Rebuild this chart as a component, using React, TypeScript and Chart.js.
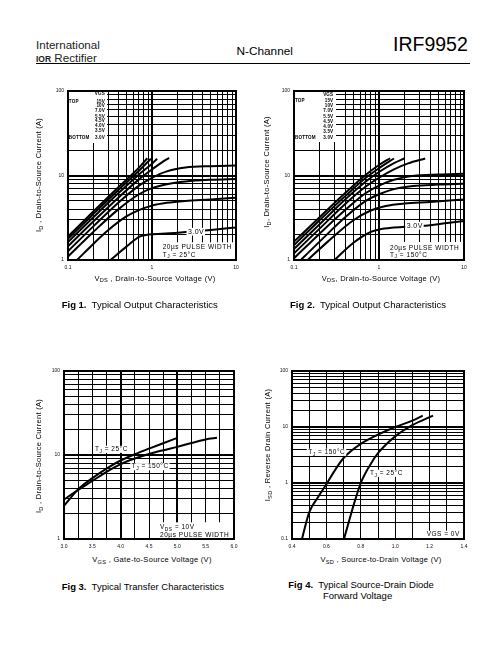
import React, { useEffect, useRef } from 'react';
import { Chart, registerables } from 'chart.js';

Chart.register(...registerables);

type Pt = [number, number];

// ---------------- tick labels ----------------
const OUT_X_LABELS = ['0.1', '1', '10'];
const OUT_Y_LABELS = ['1', '10', '100'];
const TRANSFER_X_LABELS = ['3.0', '3.5', '4.0', '4.5', '5.0', '5.5', '6.0'];
const TRANSFER_Y_LABELS = ['1', '10', '100'];
const DIODE_X_LABELS = ['0.4', '0.6', '0.8', '1.0', '1.2', '1.4'];
const DIODE_Y_LABELS = ['0.1', '1', '10', '100'];

// ---------------- legend ----------------
const VGS_LEVELS = ['15V', '10V', '7.0V', '5.5V', '4.5V', '4.0V', '3.5V', '3.0V'];

// ---------------- Fig 1 : output, Tj = 25C  [VDS, ID] ----------------
const F1_15V: Pt[] = [[0.1, 1.9], [0.2, 3.75], [0.4, 7.3], [0.7, 12.4], [0.88, 16.0]];
const F1_10V: Pt[] = [[0.1, 1.78], [0.2, 3.5], [0.4, 6.8], [0.7, 11.4], [0.97, 15.8]];
const F1_7V: Pt[] = [[0.1, 1.63], [0.2, 3.2], [0.4, 6.2], [0.7, 10.3], [1.0, 13.8], [1.15, 15.8]];
const F1_5V5: Pt[] = [[0.1, 1.45], [0.2, 2.85], [0.4, 5.5], [0.7, 9.0], [1.0, 11.8], [1.3, 14.2], [1.6, 16.2]];
const F1_4V5: Pt[] = [[0.1, 1.27], [0.2, 2.5], [0.4, 4.8], [0.7, 7.6], [1.0, 9.4], [1.5, 11.2], [2.5, 12.4], [5, 12.9], [10, 13.1]];
const F1_4V: Pt[] = [[0.1, 1.1], [0.2, 2.15], [0.4, 4.0], [0.7, 6.0], [1.0, 7.1], [1.5, 7.9], [2.5, 8.5], [5, 8.9], [10, 9.1]];
const F1_3V5: Pt[] = [[0.128, 1.0], [0.2, 1.55], [0.3, 2.25], [0.5, 3.3], [0.7, 3.9], [1.0, 4.4], [1.5, 4.75], [2.5, 5.0], [5, 5.2], [10, 5.45]];
const F1_3V: Pt[] = [[0.32, 1.0], [0.5, 1.45], [0.72, 1.9], [0.85, 1.98], [1.0, 2.02], [2.0, 2.1], [3.0, 2.18], [5, 2.27], [10, 2.42]];

// ---------------- Fig 2 : output, Tj = 150C ----------------
const F2_15V: Pt[] = [[0.1, 1.65], [0.2, 3.2], [0.4, 6.2], [0.7, 10.2], [1.0, 13.3], [1.35, 16.0]];
const F2_10V: Pt[] = [[0.1, 1.5], [0.2, 2.95], [0.4, 5.7], [0.7, 9.4], [1.0, 12.2], [1.5, 15.9]];
const F2_7V: Pt[] = [[0.1, 1.35], [0.2, 2.65], [0.4, 5.2], [0.7, 8.5], [1.0, 11.0], [1.5, 14.0], [2.0, 16.0]];
const F2_5V5: Pt[] = [[0.1, 1.2], [0.2, 2.35], [0.4, 4.6], [0.7, 7.4], [1.0, 9.4], [1.5, 11.8], [2.2, 13.9], [3.5, 15.9]];
const F2_4V5: Pt[] = [[0.1, 1.05], [0.2, 2.05], [0.4, 3.9], [0.7, 6.2], [1.0, 7.6], [1.5, 8.9], [2.5, 9.9], [5, 10.3], [10, 10.5]];
const F2_4V: Pt[] = [[0.12, 1.0], [0.2, 1.65], [0.4, 3.2], [0.7, 5.0], [1.0, 6.0], [1.5, 6.9], [2.5, 7.5], [5, 7.8], [10, 8.0]];
const F2_3V5: Pt[] = [[0.145, 1.0], [0.25, 1.65], [0.5, 2.95], [0.8, 3.85], [1.2, 4.35], [2.0, 4.65], [4.0, 4.85], [10, 5.2]];
const F2_3V: Pt[] = [[0.3, 1.0], [0.5, 1.6], [0.8, 2.15], [1.0, 2.3], [1.5, 2.42], [2.5, 2.5], [4, 2.58], [6, 2.72], [10, 2.9]];

// ---------------- Fig 3 : transfer [VGS, ID] ----------------
const F3_25C: Pt[] = [[3.0, 2.48], [3.25, 3.9], [3.5, 5.3], [3.75, 6.9], [4.0, 8.6], [4.25, 10.2], [4.5, 11.9], [4.75, 13.8], [5.0, 16.0]];
const F3_150C: Pt[] = [[3.0, 2.95], [3.25, 3.85], [3.5, 4.9], [3.75, 6.3], [4.0, 7.8], [4.25, 9.1], [4.5, 10.3], [4.75, 11.4], [5.0, 12.5], [5.25, 13.9], [5.5, 15.3], [5.7, 16.0]];

// ---------------- Fig 4 : diode [VSD, ISD] ----------------
const F4_150C: Pt[] = [[0.458, 0.1], [0.5, 0.3], [0.55, 0.55], [0.6, 0.95], [0.65, 1.7], [0.7, 2.8], [0.8, 5.0], [0.9, 7.3], [1.0, 10.0], [1.1, 13.0], [1.16, 16.0]];
const F4_25C: Pt[] = [[0.702, 0.1], [0.73, 0.2], [0.76, 0.42], [0.8, 1.0], [0.85, 2.0], [0.9, 3.4], [1.0, 6.8], [1.1, 10.8], [1.22, 16.0]];

// ---------------------------------------------------------------
const FONT = '"Liberation Sans", Arial, Helvetica, sans-serif';
const YW = 30; // y-axis band width
const XH = 16; // x-axis band height
const PT = 8;
const PR = 8;

function logGrid(min: number, max: number): number[] {
  const out: number[] = [];
  const e0 = Math.round(Math.log10(min));
  const e1 = Math.round(Math.log10(max));
  for (let e = e0; e < e1; e++) for (let m = 1; m <= 9; m++) out.push(Number((m * Math.pow(10, e)).toPrecision(6)));
  out.push(max);
  return out;
}
function linGrid(min: number, max: number, step: number): number[] {
  const n = Math.round((max - min) / step);
  return Array.from({ length: n + 1 }, (_, i) => Number((min + i * step).toFixed(6)));
}
const isDecade = (v: number) => Math.abs(Math.log10(v) - Math.round(Math.log10(v))) < 1e-6;
const isInt = (v: number) => Math.abs(v - Math.round(v)) < 1e-6;

interface Axis {
  type: 'linear' | 'logarithmic';
  min: number;
  max: number;
  grid: number[];
  labels: string[];
  major: (v: number) => boolean;
}
interface Note {
  s: string; x: number; y: number; size: number;
  bold?: boolean; align?: 'left' | 'right'; sp?: number; bg?: boolean;
}
interface Spec {
  left: number; top: number; w: number; h: number;
  x: Axis; y: Axis; series: Pt[][];
  covers: number[][]; notes: Note[];
}

function legendNotes(rightX: number, leftX: number, rows: number[]): Note[] {
  const base = { size: 4.6, bold: true, sp: 0.15 };
  const out: Note[] = [{ s: 'VGS', x: rightX, y: rows[0], align: 'right', ...base }];
  VGS_LEVELS.forEach((v, i) => out.push({ s: v, x: rightX, y: rows[i + 1], align: 'right', ...base }));
  out.push({ s: 'TOP', x: leftX, y: rows[1], ...base });
  out.push({ s: 'BOTTOM', x: leftX, y: rows[8], ...base });
  return out;
}

const OUT_X: Axis = { type: 'logarithmic', min: 0.1, max: 10, grid: logGrid(0.1, 10), labels: OUT_X_LABELS, major: isDecade };
const OUT_Y: Axis = { type: 'logarithmic', min: 1, max: 100, grid: logGrid(1, 100), labels: OUT_Y_LABELS, major: isDecade };

const FIG1: Spec = {
  left: 68, top: 91, w: 168, h: 169,
  x: OUT_X, y: OUT_Y,
  series: [F1_15V, F1_10V, F1_7V, F1_5V5, F1_4V5, F1_4V, F1_3V5, F1_3V],
  covers: [[0, 0, 39, 52], [92.7, 151.3, 75.3, 17.7]],
  notes: [
    ...legendNotes(37, 0.8, [3, 11, 15, 19.5, 25.5, 29.8, 35, 39.7, 47]),
    { s: '3.0V', x: 120, y: 140.7, size: 7, sp: 0.4, bg: true },
    { s: '20µs PULSE WIDTH', x: 94.7, y: 156.7, size: 6.5, sp: 0.55 },
    { s: 'T_J_ = 25°C', x: 94.7, y: 164, size: 6.5, sp: 0.55 },
  ],
};

const FIG2: Spec = {
  left: 294, top: 91, w: 170, h: 169,
  x: OUT_X, y: OUT_Y,
  series: [F2_15V, F2_10V, F2_7V, F2_5V5, F2_4V5, F2_4V, F2_3V5, F2_3V],
  covers: [[0, 0, 42, 51], [92, 151, 78, 18]],
  notes: [
    ...legendNotes(39.3, 1, [3.3, 9.5, 15, 19.3, 25.7, 30.5, 35.5, 40.5, 46.3]),
    { s: '3.0V', x: 112.7, y: 134.7, size: 7, sp: 0.4, bg: true },
    { s: '20µs PULSE WIDTH', x: 96, y: 157.3, size: 6.5, sp: 0.55 },
    { s: 'T_J_ = 150°C', x: 96, y: 164, size: 6.5, sp: 0.55 },
  ],
};

const FIG3: Spec = {
  left: 64, top: 371, w: 170, h: 168,
  x: { type: 'linear', min: 3, max: 6, grid: linGrid(3, 6, 0.25), labels: TRANSFER_X_LABELS, major: isInt },
  y: { type: 'logarithmic', min: 1, max: 100, grid: logGrid(1, 100), labels: TRANSFER_Y_LABELS, major: isDecade },
  series: [F3_25C, F3_150C],
  covers: [[93.7, 151.3, 76.3, 16.7]],
  notes: [
    { s: 'T_J_ = 25°C', x: 31, y: 78.3, size: 6.5, sp: 0.5, bg: true },
    { s: 'T_J_ = 150°C', x: 67.7, y: 95.7, size: 6.5, sp: 0.5, bg: true },
    { s: 'V_DS_ = 10V', x: 96, y: 156.7, size: 6.5, sp: 0.5 },
    { s: '20µs PULSE WIDTH', x: 96, y: 164, size: 6.5, sp: 0.55 },
  ],
};

const FIG4: Spec = {
  left: 292, top: 371, w: 172, h: 168,
  x: { type: 'linear', min: 0.4, max: 1.4, grid: linGrid(0.4, 1.4, 0.1), labels: DIODE_X_LABELS, major: () => false },
  y: { type: 'logarithmic', min: 0.1, max: 100, grid: logGrid(0.1, 100), labels: DIODE_Y_LABELS, major: isDecade },
  series: [F4_150C, F4_25C],
  covers: [[133, 159.7, 39, 8.3]],
  notes: [
    { s: 'T_J_ = 150°C', x: 16.3, y: 81.3, size: 6.5, sp: 0.5, bg: true },
    { s: 'T_J_ = 25°C', x: 78, y: 102.3, size: 6.5, sp: 0.5, bg: true },
    { s: 'VGS = 0V', x: 134.7, y: 163.3, size: 6.5, sp: 0.5 },
  ],
};

function drawNote(ctx: any, t: Note, a: any) {
  const parts = t.s.split('_');
  const f = (sub: boolean) => `${t.bold ? 'bold ' : ''}${sub ? t.size * 0.75 : t.size}px ${FONT}`;
  ctx.letterSpacing = (t.sp || 0) + 'px';
  let w = 0;
  const ws = parts.map((p, i) => {
    ctx.font = f(i % 2 === 1);
    const m = ctx.measureText(p).width;
    w += m;
    return m;
  });
  let x = a.left + t.x - (t.align === 'right' ? w : 0);
  const y = a.top + t.y;
  if (t.bg) {
    ctx.fillStyle = '#fff';
    ctx.fillRect(x - 1.5, y - t.size * 0.55, w + 2.5, t.size * 1.1);
  }
  ctx.fillStyle = '#000';
  ctx.textBaseline = 'middle';
  ctx.textAlign = 'left';
  parts.forEach((p, i) => {
    ctx.font = f(i % 2 === 1);
    ctx.fillText(p, x, y + (i % 2 === 1 ? t.size * 0.3 : 0));
    x += ws[i];
  });
}

function makeNotesPlugin(spec: Spec) {
  return {
    id: 'notes',
    beforeDatasetsDraw(chart: any) {
      const { ctx, chartArea: a } = chart;
      ctx.save();
      ctx.fillStyle = '#fff';
      spec.covers.forEach(([x, y, w, h]) => ctx.fillRect(a.left + x, a.top + y, w, h));
      ctx.restore();
    },
    afterDatasetsDraw(chart: any) {
      const { ctx, chartArea: a } = chart;
      ctx.save();
      spec.notes.forEach((n) => drawNote(ctx, n, a));
      ctx.letterSpacing = '0px';
      ctx.lineWidth = 2;
      ctx.strokeStyle = '#000';
      ctx.strokeRect(a.left, a.top, a.right - a.left, a.bottom - a.top);
      ctx.restore();
    },
  };
}

function axisOptions(dir: 'x' | 'y', ax: Axis) {
  return {
    type: ax.type,
    min: ax.min,
    max: ax.max,
    position: dir === 'x' ? 'bottom' : 'left',
    afterBuildTicks: (s: any) => {
      s.ticks = ax.grid.map((v) => ({ value: v }));
    },
    afterFit: (s: any) => {
      if (dir === 'x') s.height = XH;
      else s.width = YW;
      s.paddingLeft = 0; s.paddingRight = 0; s.paddingTop = 0; s.paddingBottom = 0;
    },
    ticks: {
      autoSkip: false,
      maxRotation: 0,
      minRotation: 0,
      padding: dir === 'x' ? 5 : 4,
      color: '#111',
      font: { family: FONT, size: 5 },
      callback: (v: number) => {
        const l = ax.labels.find((s) => Math.abs(Number(s) - v) < 1e-6 * Math.max(1, Math.abs(v)));
        return l ?? '';
      },
    },
    grid: {
      color: '#000',
      drawTicks: false,
      lineWidth: (c: any) => (c.tick && ax.major(c.tick.value) ? 2 : 1),
    },
    border: { display: false },
  };
}

function Panel({ spec }: { spec: Spec }) {
  const ref = useRef<HTMLCanvasElement>(null);
  useEffect(() => {
    const canvas = ref.current;
    if (!canvas) return;
    const chart = new Chart(canvas, {
      type: 'line',
      data: {
        datasets: spec.series.map((s) => ({
          data: s.map(([x, y]) => ({ x, y })),
          borderColor: '#000',
          borderWidth: 2,
          pointRadius: 0,
          fill: false,
          cubicInterpolationMode: 'monotone',
        })),
      },
      options: {
        animation: false,
        responsive: false,
        devicePixelRatio: 1,
        events: [],
        layout: { padding: { top: PT, right: PR, left: 0, bottom: 0 } },
        plugins: { legend: { display: false }, tooltip: { enabled: false } },
        scales: {
          x: axisOptions('x', spec.x),
          y: axisOptions('y', spec.y),
        },
      } as any,
      plugins: [makeNotesPlugin(spec)],
    } as any);
    return () => chart.destroy();
  }, [spec]);
  const W = spec.w + YW + PR;
  const H = spec.h + PT + XH;
  return (
    <canvas
      ref={ref}
      width={W}
      height={H}
      style={{ position: 'absolute', left: spec.left - YW, top: spec.top - PT, width: W, height: H }}
    />
  );
}

const sub: React.CSSProperties = { fontSize: '0.75em', position: 'relative', top: '0.3em' };

function XTitle({ cx, cy, v, s, rest }: { cx: number; cy: number; v: string; s: string; rest: string }) {
  return (
    <div style={{ position: 'absolute', left: cx, top: cy, transform: 'translate(-50%,-50%)', fontSize: 7.5, letterSpacing: 0.3, whiteSpace: 'nowrap', lineHeight: 1 }}>
      {v}<span style={sub}>{s}</span>{rest}
    </div>
  );
}
function YTitle({ cx, cy, v, s, rest }: { cx: number; cy: number; v: string; s: string; rest: string }) {
  return (
    <div style={{ position: 'absolute', left: cx, top: cy, transform: 'translate(-50%,-50%) rotate(-90deg)', fontSize: 7.5, letterSpacing: 0.3, whiteSpace: 'nowrap', lineHeight: 1 }}>
      {v}<span style={sub}>{s}</span>{rest}
    </div>
  );
}

export default function App() {
  const abs = (l: number, t: number, extra: React.CSSProperties = {}): React.CSSProperties => ({
    position: 'absolute', left: l, top: t, whiteSpace: 'nowrap', lineHeight: 1, ...extra,
  });
  return (
    <div style={{ position: 'absolute', left: 0, top: 0, width: 504, height: 648, background: '#fff', overflow: 'hidden', fontFamily: FONT, color: '#000' }}>
      {/* header */}
      <div style={abs(36, 38.5, { fontSize: 11.6, color: '#222' })}>International</div>
      <div style={abs(36, 51.5, { fontSize: 11.6, color: '#222' })}>
        <span style={{ fontWeight: 'bold', fontSize: 8.5 }}>IOR</span> Rectifier
      </div>
      <div style={abs(236.5, 46, { fontSize: 11.8 })}>N-Channel</div>
      <div style={abs(393, 35.2, { fontSize: 19.5 })}>IRF9952</div>
      <div style={{ position: 'absolute', left: 36, top: 62.5, width: 434, height: 1.6, background: '#000' }} />

      {/* charts */}
      <Panel spec={FIG1} />
      <Panel spec={FIG2} />
      <Panel spec={FIG3} />
      <Panel spec={FIG4} />

      {/* axis titles */}
      <YTitle cx={38.5} cy={175} v="I" s="D" rest=" , Drain-to-Source Current (A)" />
      <XTitle cx={155} cy={278.5} v="V" s="DS" rest=" , Drain-to-Source Voltage (V)" />
      <YTitle cx={267} cy={172} v="I" s="D" rest=", Drain-to-Source Current (A)" />
      <XTitle cx={381} cy={278.5} v="V" s="DS" rest=", Drain-to-Source Voltage (V)" />
      <YTitle cx={38.5} cy={456} v="I" s="D" rest=" , Drain-to-Source Current (A)" />
      <XTitle cx={152} cy={560} v="V" s="GS" rest=" , Gate-to-Source Voltage (V)" />
      <YTitle cx={268} cy={445} v="I" s="SD" rest=" , Reverse Drain Current (A)" />
      <XTitle cx={381} cy={560} v="V" s="SD" rest=" , Source-to-Drain Voltage (V)" />

      {/* captions */}
      <div style={abs(61.7, 300.4, { fontSize: 9.5 })}><b>Fig 1.</b>&nbsp; Typical Output Characteristics</div>
      <div style={abs(290, 300.4, { fontSize: 9.5 })}><b>Fig 2.</b>&nbsp; Typical Output Characteristics</div>
      <div style={abs(61.7, 582, { fontSize: 9.5 })}><b>Fig 3.</b>&nbsp; Typical Transfer Characteristics</div>
      <div style={abs(288.3, 580.4, { fontSize: 9.5 })}><b>Fig 4.</b>&nbsp; Typical Source-Drain Diode</div>
      <div style={abs(323, 590.6, { fontSize: 9.5 })}>Forward Voltage</div>
    </div>
  );
}
